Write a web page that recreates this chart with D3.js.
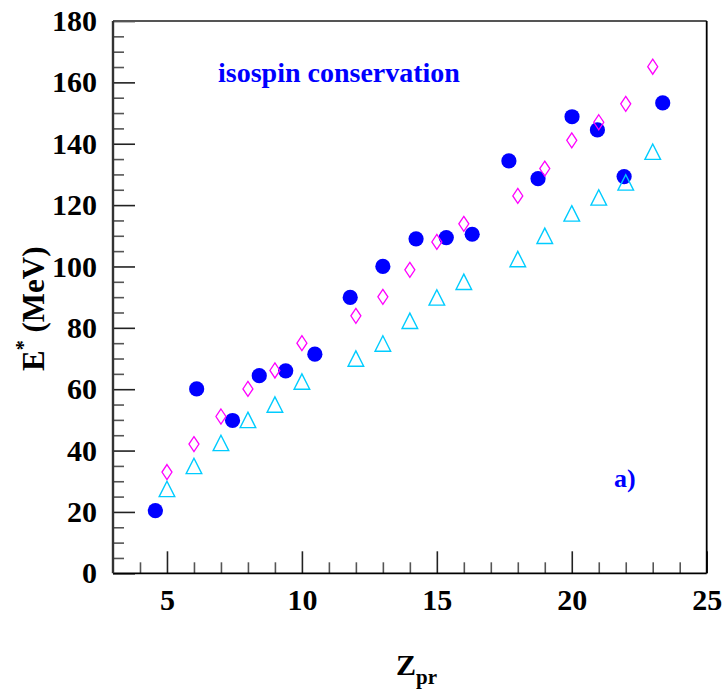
<!DOCTYPE html>
<html>
<head>
<meta charset="utf-8">
<script src="https://cdn.jsdelivr.net/npm/d3@7"></script>
<style>
  html, body { margin: 0; padding: 0; background: #fff; }
  svg { display: block; }
</style>
</head>
<body>
<script>
// ---- data ----
const circleZ = [4.57, 6.10, 7.43, 8.42, 9.40, 10.48, 11.79, 13.0, 14.23, 15.35, 16.31, 17.67, 18.75, 20.01, 20.95, 21.94, 23.37];
const circleE = [20.4, 60.1, 49.8, 64.4, 66.0, 71.4, 89.9, 100.0, 109.0, 109.4, 110.5, 134.4, 128.6, 148.8, 144.5, 129.3, 153.3];
const diamondZ = [5, 6, 7, 8, 9, 10, 12, 13, 14, 15, 16, 18, 19, 20, 21, 22, 23];
const diamondE = [33.0, 42.1, 51.1, 60.1, 66.1, 75.0, 83.9, 90.1, 98.9, 108.0, 113.9, 123.0, 131.9, 141.1, 147.0, 153.0, 165.1];
const triangleZ = [5, 6, 7, 8, 9, 10, 12, 13, 14, 15, 16, 18, 19, 20, 21, 22, 23];
const triangleE = [27.5, 35.0, 42.5, 50.0, 55.0, 62.5, 70.0, 74.9, 82.3, 89.9, 95.0, 102.4, 110.0, 117.3, 122.5, 127.4, 137.4];
const xTicks = [5, 10, 15, 20, 25];
const yTicks = [0, 20, 40, 60, 80, 100, 120, 140, 160, 180];
const xDomain = [3, 25];
const yDomain = [0, 180];

const FONT = "'Liberation Serif', 'Times New Roman', Times, serif";
const W = 725, H = 697;
const L = 113, R = 706.7, T = 21, B = 573.3;

const svg = d3.select("body").append("svg").attr("width", W).attr("height", H);
const x = d3.scaleLinear().domain(xDomain).range([L, R]);
const y = d3.scaleLinear().domain(yDomain).range([B, T]);

function styleText(sel, size, color) {
  sel.style("font-family", FONT).style("font-weight", "bold")
     .attr("font-size", size).attr("fill", color);
}

// minor ticks
const xMinor = d3.range(4, 25, 1).filter(v => xTicks.indexOf(v) < 0);
const yMinor = d3.range(5, 180, 5).filter(v => yTicks.indexOf(v) < 0);

svg.append("g").attr("transform", `translate(0,${B})`)
  .call(d3.axisBottom(x).tickValues(xMinor).tickSize(-11).tickFormat(""))
  .call(g => g.select(".domain").remove())
  .call(g => g.selectAll("line").attr("stroke", "#555").attr("stroke-width", 1.6));
svg.append("g").attr("transform", `translate(${L},0)`)
  .call(d3.axisLeft(y).tickValues(yMinor).tickSize(-11).tickFormat(""))
  .call(g => g.select(".domain").remove())
  .call(g => g.selectAll("line").attr("stroke", "#555").attr("stroke-width", 1.6));

// major ticks with labels
svg.append("g").attr("transform", `translate(0,${B})`)
  .call(d3.axisBottom(x).tickValues(xTicks).tickSize(-22).tickPadding(15).tickFormat(d3.format("d")))
  .call(g => g.select(".domain").remove())
  .call(g => g.selectAll("line").attr("stroke", "#222").attr("stroke-width", 1.6))
  .call(g => styleText(g.selectAll("text"), 30, "#000"));
svg.append("g").attr("transform", `translate(${L},0)`)
  .call(d3.axisLeft(y).tickValues(yTicks).tickSize(-22).tickPadding(16).tickFormat(d3.format("d")))
  .call(g => g.select(".domain").remove())
  .call(g => g.selectAll("line").attr("stroke", "#222").attr("stroke-width", 1.6))
  .call(g => styleText(g.selectAll("text"), 30, "#000"));

// frame
svg.append("line").attr("x1", L).attr("x2", R).attr("y1", T).attr("y2", T).attr("stroke", "#555").attr("stroke-width", 1.8);
svg.append("line").attr("x1", R).attr("x2", R).attr("y1", T).attr("y2", B).attr("stroke", "#000").attr("stroke-width", 1.8);
svg.append("line").attr("x1", L).attr("x2", R).attr("y1", B).attr("y2", B).attr("stroke", "#000").attr("stroke-width", 1.8);
svg.append("line").attr("x1", L).attr("x2", L).attr("y1", T).attr("y2", B).attr("stroke", "#333").attr("stroke-width", 2.4);

// circles
const circles = circleZ.map((z, i) => ({ z, e: circleE[i] }));
svg.append("g").selectAll("circle").data(circles).join("circle")
  .attr("cx", d => x(d.z)).attr("cy", d => y(d.e)).attr("r", 7.6).attr("fill", "#0000ff");

// diamonds
const diamonds = diamondZ.map((z, i) => ({ z, e: diamondE[i] }));
svg.append("g").selectAll("path").data(diamonds).join("path")
  .attr("d", d => {
    const cx = x(d.z), cy = y(d.e), hw = 5, hh = 7.5;
    return `M${cx},${cy - hh}L${cx + hw},${cy}L${cx},${cy + hh}L${cx - hw},${cy}Z`;
  })
  .attr("fill", "none").attr("stroke", "#ff00ff").attr("stroke-width", 1.3);

// triangles
const triangles = triangleZ.map((z, i) => ({ z, e: triangleE[i] }));
svg.append("g").selectAll("path").data(triangles).join("path")
  .attr("d", d => {
    const cx = x(d.z), cy = y(d.e), hw = 7.8, hh = 7.7;
    return `M${cx},${cy - hh}L${cx + hw},${cy + hh}L${cx - hw},${cy + hh}Z`;
  })
  .attr("fill", "none").attr("stroke", "#00ccff").attr("stroke-width", 1.4);

// annotations
styleText(svg.append("text").attr("x", 218).attr("y", 81.5).text("isospin conservation"), 28, "#0000ff");
styleText(svg.append("text").attr("x", 614).attr("y", 487).text("a)"), 26, "#0000ff");

// x title
const xt = svg.append("text").attr("x", 396).attr("y", 675);
styleText(xt, 30, "#000");
xt.append("tspan").text("Z");
xt.append("tspan").attr("font-size", 21).attr("dy", 9).text("pr");

// y title
const yt = svg.append("text").attr("transform", "translate(44,371) rotate(-90)");
styleText(yt, 31, "#000");
yt.append("tspan").text("E");
yt.append("tspan").attr("font-size", 20).attr("dy", -14).text("*");
yt.append("tspan").attr("dy", 14).text(" (MeV)");
</script>
</body>
</html>
